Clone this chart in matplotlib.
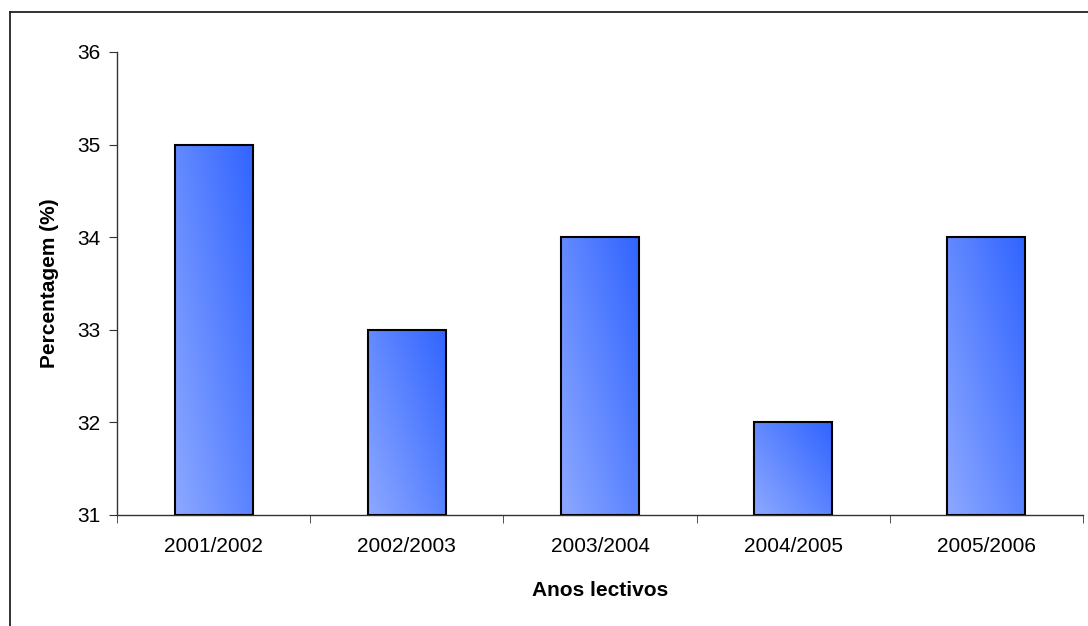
import matplotlib
matplotlib.use("Agg")
import matplotlib.pyplot as plt
import numpy as np
from matplotlib.lines import Line2D

categories = ["2001/2002", "2002/2003", "2003/2004", "2004/2005", "2005/2006"]
values = [35, 33, 34, 32, 34]
y_ticks = [31, 32, 33, 34, 35, 36]

plt.rcParams['font.family'] = ['Liberation Sans', 'DejaVu Sans']

fig = plt.figure(figsize=(10.88, 6.26), dpi=100)
ax = fig.add_axes([117/1088, 1-515/626, (1083-117)/1088, (515-52)/626])

x = np.arange(len(categories))
bars = ax.bar(x, [v - 31 for v in values], bottom=31, width=0.404,
              facecolor='none', edgecolor='black', linewidth=1.5, zorder=3)

# gradient fill
light = np.array([140, 168, 255]) / 255
dark = np.array([48, 100, 255]) / 255
n = 100
gx, gy = np.meshgrid(np.linspace(0, 1, n), np.linspace(0, 1, n))
for b in bars:
    x0, y0 = b.get_x(), b.get_y()
    w, h = b.get_width(), b.get_height()
    t = np.clip(0.55 * gx + 0.45 * gy, 0, 1)
    img = light[None, None, :] * (1 - t[..., None]) + dark[None, None, :] * t[..., None]
    im = ax.imshow(img, extent=[x0, x0 + w, y0, y0 + h], origin='lower',
                   aspect='auto', zorder=2, interpolation='bilinear')
    im.set_clip_path(b)

ax.set_xlim(-0.5, len(categories) - 0.5)
ax.set_ylim(31, 36)
ax.set_yticks(y_ticks)
ax.set_yticklabels([str(v) for v in y_ticks], fontsize=15)
ax.set_xticks(x)
ax.set_xticklabels(categories, fontsize=15)
ax.tick_params(axis='x', length=0, pad=16)
ax.set_xticks(np.arange(-0.5, len(categories)), minor=True)
ax.tick_params(axis='x', which='minor', length=6, direction='out', color='#333333')
ax.tick_params(axis='y', length=6, direction='out', color='#333333', pad=6)

for s in ['top', 'right']:
    ax.spines[s].set_visible(False)
for s in ['left', 'bottom']:
    ax.spines[s].set_color('#333333')
    ax.spines[s].set_linewidth(1.0)

ax.set_xlabel("Anos lectivos", fontsize=15, fontweight='bold', labelpad=18)
ax.set_ylabel("Percentagem (%)", fontsize=15, fontweight='bold', labelpad=13)

# outer frame (top and left edges)
fig.add_artist(Line2D([10/1088, 1], [1-12/626, 1-12/626], transform=fig.transFigure, color='#222222', lw=1.3))
fig.add_artist(Line2D([10/1088, 10/1088], [0, 1-12/626], transform=fig.transFigure, color='#222222', lw=1.3))

fig.savefig("out.png", dpi=100)
